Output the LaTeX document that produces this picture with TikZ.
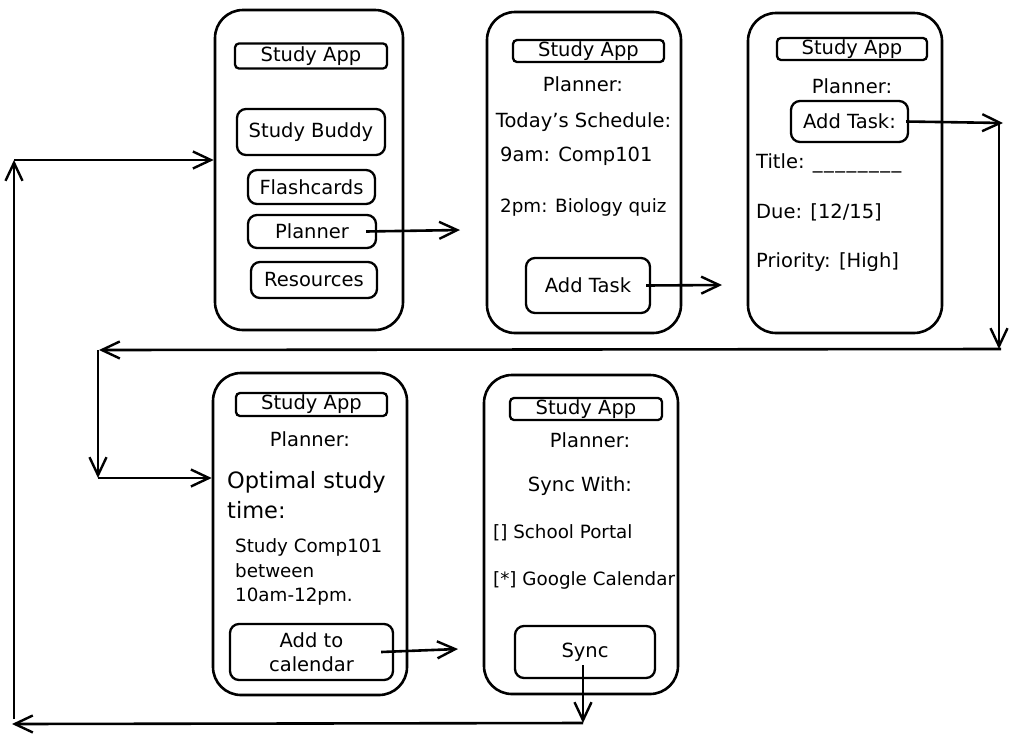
\documentclass[tikz,border=0pt]{standalone}
\usepackage{fontspec}
\setmainfont{DejaVu Sans}
\usetikzlibrary{arrows.meta}
\newcommand{\blankline}{\_\kern1.5pt\_\kern1.5pt\_\kern1.5pt\_\kern1.5pt\_\kern1.5pt\_\kern1.5pt\_\kern1.5pt\_}
\begin{document}
\begin{tikzpicture}[x=1pt,y=-1pt,
  every node/.style={font=\fontsize{19.5}{24.5}\selectfont, inner sep=0pt},
  phone/.style={draw, line width=2.6pt, rounded corners=28pt},
  btn/.style={draw, line width=2.3pt, rounded corners=9pt},
  hdr/.style={draw, line width=2.3pt, rounded corners=4pt},
  lefttxt/.style={anchor=west},
  small/.style={font=\fontsize{18.3}{24.5}\selectfont},
  bigtxt/.style={anchor=west, align=left, font=\fontsize{22.5}{30}\selectfont},
  flow/.style={line width=2.6pt, -{Straight Barb[length=18pt,width=17pt,line width=2.4pt]}}]
\useasboundingbox (0,0) rectangle (1014,737);

% ---------- screen 1: home ----------
\node[phone, minimum width=188pt, minimum height=320pt] (p1) at (309,170) {};
\node[hdr, minimum width=152pt, minimum height=25pt] (h1) at (311,56) {Study App};
\node[btn, minimum width=148pt, minimum height=46pt] (buddy) at (311,132) {Study Buddy};
\node[btn, minimum width=127pt, minimum height=34pt] (flash) at (311.5,187) {Flashcards};
\node[btn, minimum width=128pt, minimum height=33pt] (plan) at (312,231.5) {Planner};
\node[btn, minimum width=126pt, minimum height=36pt] (res) at (314,280) {Resources};

% ---------- screen 2: schedule ----------
\node[phone, minimum width=194pt, minimum height=321pt] (p2) at (584,172.5) {};
\node[hdr, minimum width=151pt, minimum height=22pt] (h2) at (588.5,51) {Study App};
\node (pl2) at (583,84) {Planner:};
\node (sched) at (583.5,122) {Today's Schedule:};
\node[lefttxt] (nine) at (500,156) {9am: Comp101};
\node[lefttxt, small] (two) at (500,207) {2pm: Biology quiz};
\node[btn, minimum width=124pt, minimum height=55pt] (at2) at (588,285.5) {Add Task};

% ---------- screen 3: new task ----------
\node[phone, minimum width=194pt, minimum height=320pt] (p3) at (845,173) {};
\node[hdr, minimum width=150pt, minimum height=22pt] (h3) at (852,49) {Study App};
\node (pl3) at (852,86) {Planner:};
\node[btn, minimum width=117pt, minimum height=41pt] (at3) at (849.5,121.5) {Add Task:};
\node[lefttxt] (ttl) at (756,163) {Title: \blankline};
\node[lefttxt] (due) at (756,212) {Due: [12/15]};
\node[lefttxt] (prio) at (756,262) {Priority: [High]};

% ---------- screen 4: suggestion ----------
\node[phone, minimum width=194pt, minimum height=322pt] (p4) at (310,534) {};
\node[hdr, minimum width=151pt, minimum height=23pt] (h4) at (311.5,404.5) {Study App};
\node (pl4) at (310,439) {Planner:};
\node[bigtxt] (opt) at (227,495) {Optimal study\\time:};
\node[lefttxt, small, align=left] (sugg) at (235,572) {Study Comp101\\between\\10am-12pm.};
\node[btn, minimum width=163pt, minimum height=56pt, align=center] (cal) at (311.5,652) {Add to\\calendar};

% ---------- screen 5: sync ----------
\node[phone, minimum width=194pt, minimum height=319pt] (p5) at (581,534.5) {};
\node[hdr, minimum width=152pt, minimum height=22pt] (h5) at (586,409) {Study App};
\node (pl5) at (590,440) {Planner:};
\node (sw) at (580,486) {Sync With:};
\node[lefttxt, small] (portal) at (493,533) {[] School Portal};
\node[lefttxt, small] (gcal) at (493,580) {[*] Google Calendar};
\node[btn, minimum width=140pt, minimum height=52pt] (sync) at (585,652) {Sync};

% ---------- connector waypoints ----------
\coordinate (e1) at (460,230);
\coordinate (e2) at (722,285);
\coordinate (e4) at (458,649);
\coordinate (c1) at (1003,123);
\coordinate (c2) at (999,349);
\coordinate (c3) at (99,350);
\coordinate (c4) at (98,478);
\coordinate (d1) at (583,723);
\coordinate (d2) at (12,724);
\coordinate (d3) at (14,160);

% ---------- forward flow ----------
\draw[flow] ([xshift=-11pt]plan.east) -- (e1);
\draw[flow] ([xshift=-5pt]at2.east) -- (e2);
\draw[flow] ([xshift=-13pt]cal.east) -- (e4);

% loop from the task form back to the suggestion screen
\draw[flow] ([xshift=-3pt]at3.east) -- (c1);
\draw[flow] ([xshift=-4pt]c1) -- (c2);
\draw[flow] ([xshift=2pt]c2) -- (c3);
\draw[flow] ([xshift=-1pt]c3) -- (c4);
\draw[flow] (c4) -- (p4.west |- c4);

% loop from sync back to the home screen
\draw[flow] ([shift={(-2,13)}]sync.center) -- (d1);
\draw[flow] (d1) -- (d2);
\draw[flow] ([yshift=5pt]d2 -| d3) -- (d3);
\draw[flow] (d3) -- (p1.west |- d3);
\end{tikzpicture}
\end{document}
